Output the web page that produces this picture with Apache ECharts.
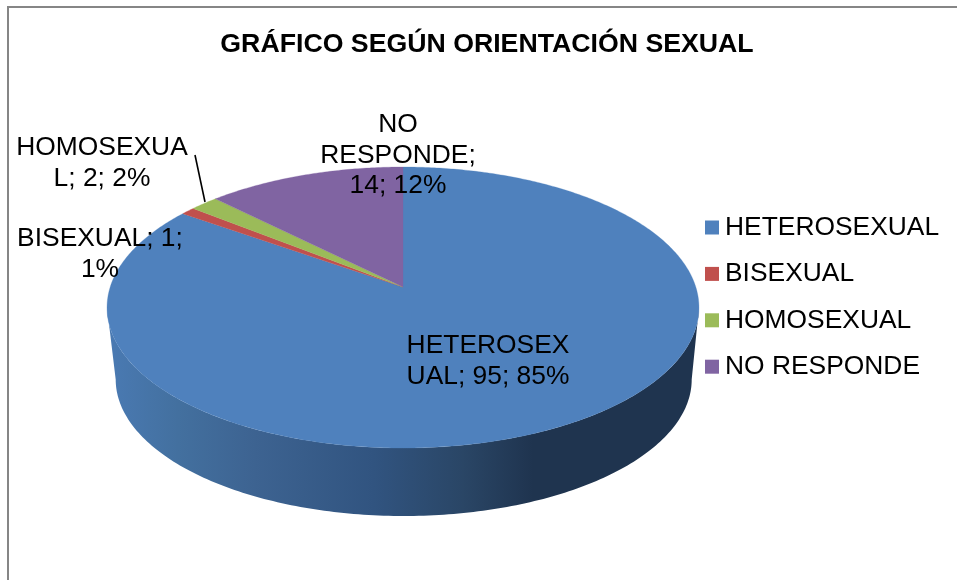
<!DOCTYPE html>
<html><head><meta charset="utf-8">
<style>html,body{margin:0;padding:0;background:#fff}#c{width:957px;height:580px}</style>
<script src="https://cdn.jsdelivr.net/npm/echarts@6/dist/echarts.min.js"></script>
</head><body><div id="c"></div>
<script>
const categories = ['HETEROSEXUAL','BISEXUAL','HOMOSEXUAL','NO RESPONDE'];
const values = [95,1,2,14];
const labelLines = [['HETEROSEX','UAL; 95; 85%'],['BISEXUAL; 1;','1%'],['HOMOSEXUA','L; 2; 2%'],['NO','RESPONDE;','14; 12%']];
const colors = ['#4f81bd','#c0504d','#9bbb59','#8064a2'];
const titleText = 'GRÁFICO SEGÚN ORIENTACIÓN SEXUAL';

const FONT = '"Liberation Sans", Arial, sans-serif';
const FS = 26.4;
const P = {cx:403, cy:287, R:292.8, S:137.5, k:0.146};
const labelPos = [[488,346],[100,239],[102,148],[398,125]];
const total = values.reduce((a,b)=>a+b,0);
function proj(theta){
  const u=Math.sin(theta), v=-Math.cos(theta), d=1-P.k*v;
  return [P.cx+P.R*u/d, P.cy+P.S*v/d];
}
function angles(i){
  let before=0; for(let j=0;j<i;j++) before+=values[j];
  return [before/total*2*Math.PI,(before+values[i])/total*2*Math.PI];
}
function wedge(i){
  const [a,b]=angles(i); const n=Math.max(4,Math.ceil((b-a)*90));
  const pts=[[P.cx,P.cy]];
  for(let s=0;s<=n;s++) pts.push(proj(a+(b-a)*s/n));
  return pts;
}
function wallPoints(){
  const top={cy:307.5,rx:296,ry:140.5}, bot={cx:403.7,cy:379.5,rx:288,ry:136.5};
  const pts=[];
  for(let s=0;s<=180;s++){const t=Math.PI*s/180; pts.push([bot.cx-bot.rx*Math.cos(t),bot.cy+bot.ry*Math.sin(t)]);}
  for(let s=180;s>=0;s--){const t=Math.PI*s/180; pts.push([P.cx-top.rx*Math.cos(t),top.cy+top.ry*Math.sin(t)]);}
  return pts;
}
const wallFill = new echarts.graphic.LinearGradient(107,0,699,0,[
  {offset:0,color:'#4a7ab3'},{offset:0.12,color:'#43709f'},{offset:0.25,color:'#3d6391'},
  {offset:0.45,color:'#315480'},{offset:0.6,color:'#2a4666'},{offset:0.72,color:'#1f344f'},{offset:1,color:'#1f344f'}],true);

const series = categories.map((name,i)=>({
  name, type:'custom', coordinateSystem:'none', silent:true, z:3,
  itemStyle:{color:colors[i]},
  data:[[values[i]]],
  renderItem(){
    return {type:'polygon',shape:{points:wedge(i)},style:{fill:colors[i],stroke:colors[i],lineWidth:0.3}};
  }
}));
series.unshift({
  type:'custom', coordinateSystem:'none', silent:true, z:2, data:[[values[0]]],
  renderItem(){ return {type:'polygon',shape:{points:wallPoints()},style:{fill:wallFill}}; }
});
series.push({
  type:'custom', coordinateSystem:'none', silent:true, z:5, data:[[0]],
  renderItem(){
    const kids=[{type:'polyline',shape:{points:[[195,155],[205,202]]},style:{stroke:'#000',lineWidth:1.6,fill:null}}];
    labelLines.forEach((lines,i)=>lines.forEach((t,j)=>kids.push({
      type:'text',style:{text:t,x:labelPos[i][0],y:labelPos[i][1]+j*30.5,align:'center',verticalAlign:'middle',
        font:FS+'px '+FONT,fill:'#000'}})));
    return {type:'group',children:kids};
  }
});
const chart=echarts.init(document.getElementById('c'),null,{renderer:'canvas'});
chart.setOption({
  animation:false,
  backgroundColor:'#fff',
  title:{text:titleText,left:482,top:26,textAlign:'center',textStyle:{fontFamily:FONT,fontWeight:'bold',fontSize:26.7,color:'#000'}},
  legend:{orient:'vertical',left:705,top:212,icon:'rect',itemWidth:14,itemHeight:14,itemGap:15.4,selectedMode:false,
    data:categories,textStyle:{fontFamily:FONT,fontSize:FS,color:'#000',lineHeight:30,padding:[1,0,0,1]},padding:0},
  graphic:[{type:'polyline',silent:true,z:10,shape:{points:[[8,580],[8,7],[957,7]]},style:{stroke:'#868686',lineWidth:2,fill:null}}],
  series
});
</script></body></html>
